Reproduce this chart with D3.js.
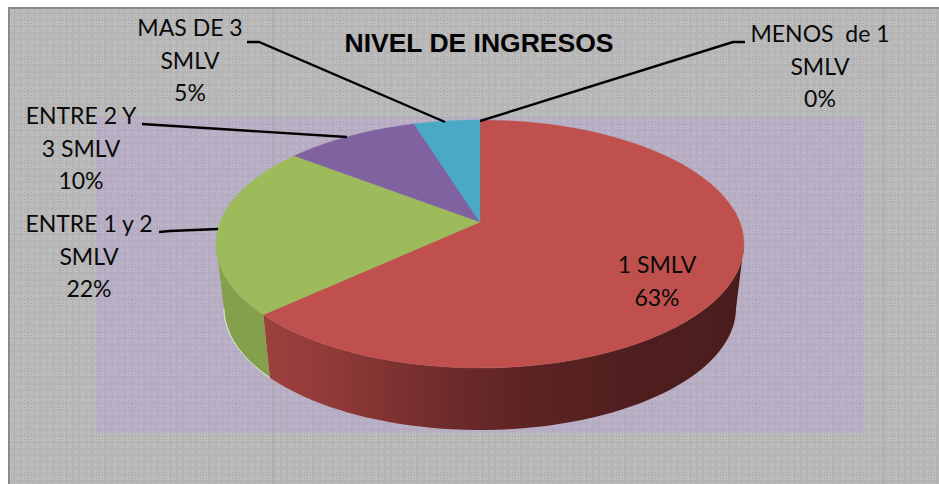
<!DOCTYPE html>
<html><head><meta charset="utf-8">
<script src="https://cdn.jsdelivr.net/npm/d3@7"></script>
<style>html,body{margin:0;padding:0;background:#fff;overflow:hidden}svg{display:block}</style>
</head><body><svg id="c" width="939" height="484"></svg>
<script>
const categories = ["1 SMLV","ENTRE 1 y 2 SMLV","ENTRE 2 Y 3 SMLV","MAS DE 3 SMLV","MENOS de 1 SMLV"];
const percents = [63,22,10,5,0];
const sliceColors = ["#bf504d","#9dbb5b","#8062a1","#4aa9c5","#4f81bd"];
const wallColors = ["#8a3634","#84a04c","#5e4878","#35809a","#3a6090"];
const labelLines = [["1 SMLV","63%"],["ENTRE 1 y 2","SMLV","22%"],["ENTRE 2 Y","3 SMLV","10%"],["MAS DE 3","SMLV","5%"],["MENOS  de 1","SMLV","0%"]];
const titleText = "NIVEL DE INGRESOS";

// layout
const W=939,H=484;
const top_={cx:480,cy:244,rx:264,ry:124}, bot={cx:480,cy:308,rx:256,ry:122}, apex=[480,222];
const persp=11.5*Math.PI/180;
const labelPos=[[657,273],[89,232],[81,124],[190,36],[820,42]];
const leaders=[null,[[159,232],[170,231],[218,229]],[[142,124],[347,137]],[[247,42],[259,42],[445,122]],[[745,42],[733,42],[480,121]]];

const svg=d3.select("#c");
const defs=svg.append("defs");
const P=13;
function pattern(id,base,band,dot,light){
  const p=defs.append("pattern").attr("id",id).attr("patternUnits","userSpaceOnUse").attr("width",P).attr("height",P).attr("x",10).attr("y",9);
  p.append("rect").attr("width",P).attr("height",P).attr("fill",base);
  [0,6.5].forEach(o=>{
    p.append("rect").attr("x",o+3).attr("width",2).attr("height",P).attr("fill",band);
    p.append("rect").attr("y",o+3).attr("width",P).attr("height",2).attr("fill",band);
  });
  [[1,1],[8,1],[1,8],[8,8]].forEach(([x,y])=>{
    p.append("rect").attr("x",x-1).attr("y",y-1).attr("width",3).attr("height",3).attr("fill",light);
    p.append("rect").attr("x",x).attr("y",y).attr("width",1).attr("height",1).attr("fill",dot);
  });
}
pattern("bgP","#bababa","#b4b4b4","#9c9c9c","#c2c2c2");
pattern("plotP","#b9b0c5","#b4abc0","#a297b3","#bfb7ca");
const grad=defs.append("linearGradient").attr("id","redWall").attr("gradientUnits","userSpaceOnUse").attr("x1",265).attr("x2",745).attr("y1",0).attr("y2",0);
[[0,"#9c403d"],[0.12,"#923b39"],[0.4,"#6c2a2a"],[0.55,"#5d2323"],[0.8,"#4e1e1e"],[1,"#4a1d1c"]].forEach(s=>grad.append("stop").attr("offset",s[0]).attr("stop-color",s[1]));

// background
svg.append("rect").attr("x",8).attr("y",7).attr("width",W).attr("height",H).attr("fill","#8a8a8a");
svg.append("rect").attr("x",10).attr("y",9).attr("width",W).attr("height",H).attr("fill","url(#bgP)");
svg.append("rect").attr("x",96).attr("y",117).attr("width",768).attr("height",316).attr("fill","url(#plotP)");
[273,883].forEach(x=>svg.append("line").attr("x1",x).attr("x2",x).attr("y1",9).attr("y2",H).attr("stroke","#a2a2a2").attr("stroke-width",1).attr("opacity",.8));

// slices
const pie=d3.pie().sort(null).value(d=>d)(percents);
const warp=a=>a-persp*Math.sin(a);
const pt=(e,a)=>{const t=warp(a);return [e.cx+e.rx*Math.sin(t),e.cy-e.ry*Math.cos(t)];};
const samples=(a0,a1)=>d3.range(0,61).map(i=>a0+(a1-a0)*i/60);
const line=d3.line();
// slice angles at which the warped ellipse reaches its right and left extremes
const clampA=[Math.PI/2+persp,Math.PI*1.5-persp];

const gWalls=svg.append("g"), gTop=svg.append("g");
pie.forEach((s,i)=>{
  if(s.endAngle-s.startAngle<=0) return;
  const a0=Math.max(s.startAngle,clampA[0]), a1=Math.min(s.endAngle,clampA[1]);
  if(a1>a0){
    const as=samples(a0,a1);
    const pts=as.map(a=>pt(top_,a)).concat(as.slice().reverse().map(a=>pt(bot,a)));
    gWalls.append("path").attr("d",line(pts)+"Z").attr("fill",i===0?"url(#redWall)":wallColors[i]);
    if(i===1){
      gWalls.append("path").attr("d",line(as.map(a=>pt(bot,a)))).attr("fill","none").attr("stroke","#fff").attr("stroke-width",1).attr("opacity",.8);
    }
  }
  const arc=samples(s.startAngle,s.endAngle).map(a=>pt(top_,a));
  gTop.append("path").attr("d",line([apex,...arc])+"Z").attr("fill",sliceColors[i]).attr("stroke",sliceColors[i]).attr("stroke-width",.4);
});

// leaders
svg.append("g").selectAll("path").data(leaders.filter(Boolean)).join("path")
  .attr("d",d=>line(d)).attr("fill","none").attr("stroke","#000").attr("stroke-width",2.4);

// text
svg.append("text").attr("x",479).attr("y",52).attr("text-anchor","middle")
  .attr("font-family","Liberation Sans").attr("font-weight","bold").attr("font-size",26.5).attr("fill","#000").text(titleText);
labelLines.forEach((ls,i)=>{
  const t=svg.append("text").attr("text-anchor","middle").attr("font-family","Lato").attr("font-size",23).attr("fill","#0a0a0a");
  ls.forEach((l,j)=>t.append("tspan").attr("x",labelPos[i][0]).attr("y",labelPos[i][1]+j*32.7).style("white-space","pre").text(l));
});
</script></body></html>
